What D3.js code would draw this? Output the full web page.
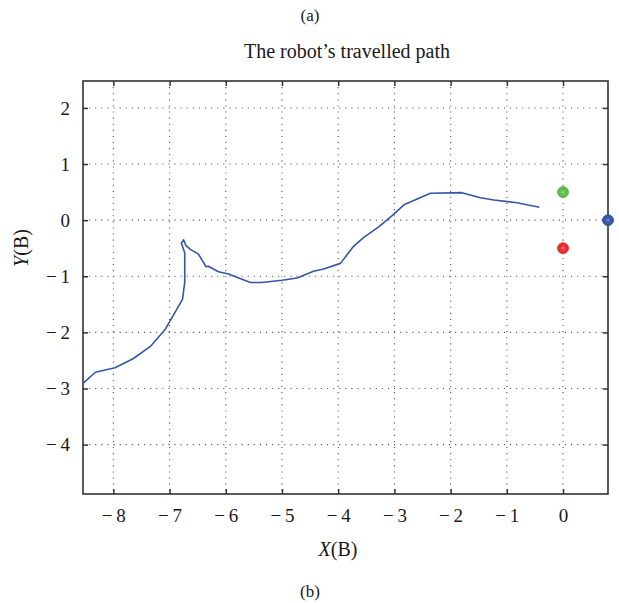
<!DOCTYPE html>
<html>
<head>
<meta charset="utf-8">
<script src="https://cdn.jsdelivr.net/npm/d3@7"></script>
<style>
  html, body { margin: 0; padding: 0; background: #fff; }
  svg { display: block; }
  text { font-family: "Liberation Serif", "DejaVu Serif", serif; fill: #1a1a1a; }
</style>
</head>
<body>
<svg id="chart" width="619" height="603"></svg>
<script>
// Robot path, X(B) and Y(B) coordinates
const pathX = [-8.54, -8.32, -7.97, -7.65, -7.34, -7.08, -6.77, -6.73, -6.73, -6.79, -6.75, -6.71, -6.63, -6.49,
  -6.35, -6.31, -6.13, -5.95, -5.77, -5.56, -5.36, -5.00, -4.73, -4.44, -4.26, -3.96, -3.73, -3.55, -3.28,
  -3.04, -2.82, -2.36, -1.80, -1.47, -1.23, -0.82, -0.42];
const pathY = [-2.91, -2.71, -2.63, -2.47, -2.25, -1.95, -1.41, -1.11, -0.58, -0.41, -0.35, -0.45, -0.52, -0.60,
  -0.83, -0.82, -0.92, -0.96, -1.03, -1.11, -1.11, -1.07, -1.03, -0.91, -0.87, -0.77, -0.47, -0.31, -0.12,
  0.08, 0.28, 0.48, 0.49, 0.40, 0.36, 0.31, 0.23];

// Landmarks
const markerX = [0, 0, 0.8];
const markerY = [0.5, -0.5, 0];
const markerColor = ["#5cb84a", "#e8262b", "#2f50a0"];

const xTicks = [-8, -7, -6, -5, -4, -3, -2, -1, 0];
const yTicks = [2, 1, 0, -1, -2, -3, -4];
const xDomain = [-8.54, 0.8];
const yDomain = [-4.88, 2.48];

const svg = d3.select("#chart");
const m = { left: 83, right: 608, top: 81, bottom: 494 };

const x = d3.scaleLinear().domain(xDomain).range([m.left, m.right]);
const y = d3.scaleLinear().domain(yDomain).range([m.bottom, m.top]);

const fmt = v => v < 0 ? "\u2212\u2009" + Math.abs(v) : String(v);

// dotted grid
const grid = svg.append("g").attr("stroke", "#555").attr("stroke-width", 1.1)
  .attr("stroke-dasharray", "1.1,5").attr("stroke-linecap", "butt");
grid.selectAll("line.gx").data(xTicks).join("line")
  .attr("x1", d => x(d)).attr("x2", d => x(d)).attr("y1", m.top).attr("y2", m.bottom);
grid.selectAll("line.gy").data(yTicks).join("line")
  .attr("y1", d => y(d)).attr("y2", d => y(d)).attr("x1", m.left).attr("x2", m.right);

// axes
const axisColor = "#333";
const axB = svg.append("g").attr("transform", `translate(0,${m.bottom})`)
  .call(d3.axisBottom(x).tickValues(xTicks).tickSizeInner(-5).tickSizeOuter(0).tickPadding(15).tickFormat(fmt));
const axT = svg.append("g").attr("transform", `translate(0,${m.top})`)
  .call(d3.axisTop(x).tickValues(xTicks).tickSizeInner(-5).tickSizeOuter(0).tickFormat(""));
const axL = svg.append("g").attr("transform", `translate(${m.left},0)`)
  .call(d3.axisLeft(y).tickValues(yTicks).tickSizeInner(-5).tickSizeOuter(0).tickPadding(13).tickFormat(fmt));
const axR = svg.append("g").attr("transform", `translate(${m.right},0)`)
  .call(d3.axisRight(y).tickValues(yTicks).tickSizeInner(-5).tickSizeOuter(0).tickFormat(""));

[axB, axT, axL, axR].forEach(g => {
  g.attr("font-family", "'Liberation Serif', serif").attr("font-size", 19);
  g.select(".domain").remove();
  g.selectAll(".tick line").attr("stroke", axisColor).attr("stroke-width", 1.5);
  g.selectAll("text").attr("font-size", 19).attr("fill", "#1a1a1a");
});

svg.append("rect")
  .attr("x", m.left).attr("y", m.top)
  .attr("width", m.right - m.left).attr("height", m.bottom - m.top)
  .attr("fill", "none").attr("stroke", axisColor).attr("stroke-width", 1.6);

// travelled path
const pts = pathX.map((v, i) => [v, pathY[i]]);
svg.append("path")
  .datum(pts)
  .attr("d", d3.line().x(d => x(d[0])).y(d => y(d[1])))
  .attr("fill", "none").attr("stroke", "#3556a6").attr("stroke-width", 1.6)
  .attr("stroke-linejoin", "round");

// landmark markers: filled circle with a light star
const mk = svg.append("g");
markerX.forEach((mx, i) => {
  const cx = x(mx), cy = y(markerY[i]);
  const g = mk.append("g").attr("transform", `translate(${cx},${cy})`);
  g.append("circle").attr("r", 5.5).attr("fill", markerColor[i]).attr("stroke", markerColor[i]).attr("stroke-width", 0.8);
  [0, 45, 90, 135].forEach(a => {
    g.append("line").attr("x1", -3.6).attr("x2", 3.6).attr("y1", 0).attr("y2", 0)
      .attr("transform", `rotate(${a})`)
      .attr("stroke", "#fff").attr("stroke-opacity", 0.45).attr("stroke-width", 0.8)
      .attr("stroke-dasharray", "1,1");
  });
});

// titles and labels
svg.append("text").attr("x", 310).attr("y", 21).attr("text-anchor", "middle")
  .attr("font-size", 17).text("(a)");
svg.append("text").attr("x", 310).attr("y", 597).attr("text-anchor", "middle")
  .attr("font-size", 17).text("(b)");
svg.append("text").attr("x", 347).attr("y", 58).attr("text-anchor", "middle")
  .attr("font-size", 20).text("The robot\u2019s travelled path");

const xl = svg.append("text").attr("x", 338).attr("y", 556).attr("text-anchor", "middle").attr("font-size", 20);
xl.append("tspan").attr("font-style", "italic").text("X");
xl.append("tspan").text("(B)");

const yl = svg.append("text").attr("transform", "translate(28,248) rotate(-90)")
  .attr("text-anchor", "middle").attr("font-size", 20);
yl.append("tspan").attr("font-style", "italic").text("Y");
yl.append("tspan").text("(B)");
</script>
</body>
</html>
